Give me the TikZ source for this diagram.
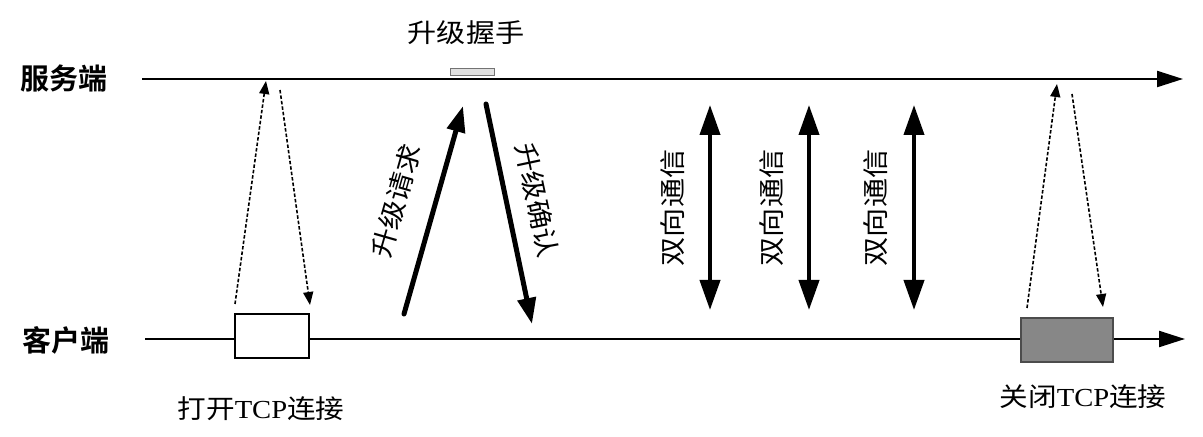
\documentclass[tikz,border=0pt]{standalone}
\usepackage{fontspec}
\usepackage{graphicx}
\usetikzlibrary{arrows.meta}
\newfontfamily\cjk{Noto Sans CJK SC}
\newfontfamily\cjkbold{Noto Sans CJK SC Bold}
\newfontfamily\lat{Liberation Serif}
\newcommand{\lbl}[1]{\scalebox{1.12}[1]{\cjk\fontsize{26bp}{30bp}\selectfont #1}}
\begin{document}
\begin{tikzpicture}[x=1bp,y=-1bp,
  timeline/.style={line width=2.2bp,-{Triangle[length=26bp,width=16bp]}},
  sidename/.style={font=\cjkbold\fontsize{29bp}{32bp}\selectfont,inner sep=0pt},
  lbltext/.style={inner sep=0pt},
  handshake/.style={line width=1.6bp,dash pattern=on 3.5bp off 2bp,-{Triangle[length=13bp,width=10bp]}},
  upgrade/.style={line width=5bp,-{Triangle[length=26bp,width=18bp]}},
  duplex/.style={line width=4bp,{Triangle[length=30bp,width=20bp]}-{Triangle[length=30bp,width=20bp]}},
  connbox/.style={draw,line width=2bp,minimum width=74bp,minimum height=44bp,inner sep=0pt}]
\useasboundingbox (0,0) rectangle (1203,437);

% lane names
\node[sidename] (srvname) at (64,78) {服务端};
\node[sidename] (cliname) at (66,340) {客户端};

% lanes
\coordinate (s0) at (142,79);
\coordinate (s1) at (1183,79);
\coordinate (c0) at (145,339);
\coordinate (c1) at (1185,339);
\draw[timeline] (s0) -- (s1);
\draw[timeline] (c0) -- (c1);

% upgrade handshake marker
\node[draw=black!55,fill=black!12,line width=1bp,minimum width=44bp,minimum height=7bp,inner sep=0pt] (hs) at (472,72.5) {};
\node[lbltext] (hslbl) at (466,33) {\lbl{升级握手}};

% TCP open / close boxes
\node[connbox,fill=white] (open) at (272,336) {};
\node[connbox,fill=black!47,draw=black!70,minimum width=92bp] (close) at (1067,340) {};
\node[lbltext] (openlbl) at (261,409) {\scalebox{1.1}[1]{\cjk\fontsize{26bp}{30bp}\selectfont 打开{\lat TCP}连接}};
\node[lbltext] (closelbl) at (1083,397) {\scalebox{1.1}[1]{\cjk\fontsize{26bp}{30bp}\selectfont 关闭{\lat TCP}连接}};

% TCP open exchange
\coordinate (o1) at (235,304);
\coordinate (o2) at (266,81);
\coordinate (o3) at (280,90);
\coordinate (o4) at (310,305);
\draw[handshake] (o1) -- (o2);
\draw[handshake] (o3) -- (o4);

% TCP close exchange
\coordinate (k1) at (1027,308);
\coordinate (k2) at (1057,84);
\coordinate (k3) at (1072,94);
\coordinate (k4) at (1103,307);
\draw[handshake] (k1) -- (k2);
\draw[handshake] (k3) -- (k4);

% upgrade request / response
\coordinate (r1) at (404,314);
\coordinate (r2) at (463,106);
\coordinate (a1) at (486,104);
\coordinate (a2) at (532,324);
\draw[upgrade,line cap=round] (r1) -- (r2);
\draw[upgrade,line cap=round] (a1) -- (a2);
\node[lbltext,rotate=74] (reqlbl) at (396,201) {\lbl{升级请求}};
\node[lbltext,rotate=-78] (acklbl) at (537,200) {\lbl{升级确认}};

% full-duplex messages
\foreach \i/\x/\lx in {1/710/673, 2/809/772, 3/914/876} {
  \coordinate (d\i a) at (\x,105);
  \coordinate (d\i b) at (\x,310);
  \draw[duplex] (d\i a) -- (d\i b);
  \node[lbltext,rotate=90] (dlbl\i) at (\lx,208) {\lbl{双向通信}};
}
\end{tikzpicture}
\end{document}
